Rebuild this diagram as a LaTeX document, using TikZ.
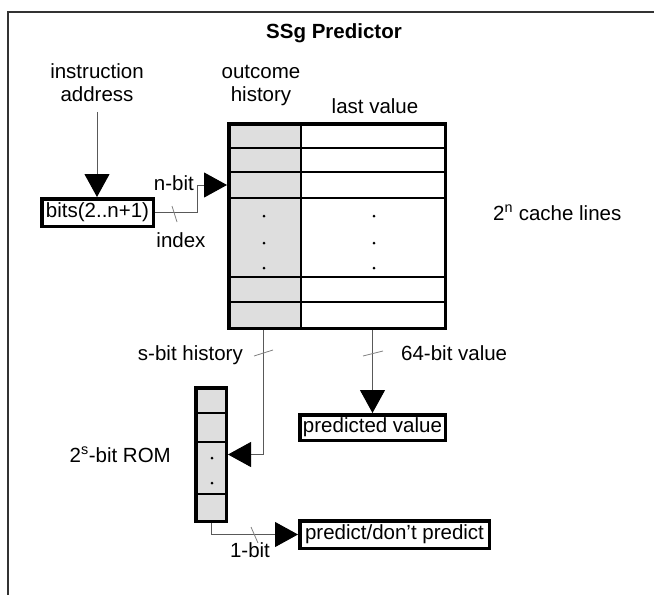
\documentclass[tikz,border=0pt]{standalone}
\usepackage{fontspec}
\setmainfont{Liberation Sans}
\usetikzlibrary{arrows.meta}
\begin{document}
\begin{tikzpicture}[x=1pt,y=-1pt,
  txt/.style={font=\fontsize{20.5}{23}\selectfont, inner sep=0pt, text height=14.5pt, text depth=4pt},
  boxnode/.style={draw=black, line width=3.5pt, fill=white, inner sep=0pt, font=\fontsize{20.5}{23}\selectfont},
  conn/.style={draw=black!65, line width=1pt},
  bigtip/.style={-{Triangle[length=23pt,width=25pt,color=black]}},
  tickmark/.style={draw=black!50, line width=0.8pt},
  cellline/.style={draw=black, line width=2.5pt},
  stipple/.style={fill=black!13},
]
\useasboundingbox (0,0) rectangle (654,595);
% frame
\draw[line width=2pt, black!80] (654,12) -- (8,12) -- (8,595);

% title
\node[txt, font={\fontsize{20.5}{23}\selectfont\bfseries}] (title) at (334,33) {SSg Predictor};

% labels
\node[txt, align=center] (ia) at (97,96.5) {instruction\\address};
\node[txt, align=center] (oh) at (261,96.5) {outcome\\history};
\node[txt] (lv) at (375,108) {last value};
\node[txt, anchor=west] (cl) at (493,215) {2\textsuperscript{n} cache lines};

% table
\fill[stipple] (228,123) rectangle (301,329);
\foreach \yy in {148,172,198,277,302} \draw[cellline] (228,\yy) -- (446,\yy);
\draw[cellline] (301,123) -- (301,329);
\node[draw=black, line width=3.5pt, inner sep=0pt, minimum width=216.5pt, minimum height=204.5pt] (table) at (337,226) {};
\foreach \yy in {216,243,268} {
  \fill (264,\yy) circle (1.5pt);
  \fill (374,\yy) circle (1.5pt);
}

% bits box
\node[boxnode, minimum width=111.5pt, minimum height=27.5pt] (bits) at (97.5,212.5) {bits(2..n+1)};

% ROM
\node[draw=black, line width=3.5pt, inner sep=0pt, minimum width=30.5pt, minimum height=133.5pt, stipple] (rom) at (211,454.5) {};
\foreach \yy in {413,442,494} \draw[cellline] (rom.west |- 0,\yy) -- (rom.east |- 0,\yy);
\fill (212,458) circle (1.5pt);
\fill (212,483) circle (1.5pt);
\node[draw=black, line width=3.5pt, inner sep=0pt, minimum width=30.5pt, minimum height=133.5pt] at (rom.center) {};

% output boxes
\node[boxnode, minimum width=145.5pt, minimum height=25.5pt] (pv) at (372.5,427.5) {predicted value};
\node[boxnode, minimum width=189.5pt, minimum height=27.5pt] (pdp) at (394.5,534.5) {predict/don't predict};

% coordinates
\coordinate (nbend) at (197,185);
\coordinate (row3) at (227,185);
\coordinate (shx) at (263,0);

% connectors
\draw[conn, bigtip, shorten <=6pt] (ia.south) -- (ia.south |- bits.north);
\draw[conn, bigtip] (bits.east) -| (nbend) -- (row3);
\draw[conn, bigtip] (table.south -| shx) |- (rom.east);
\draw[conn, bigtip] (table.south -| pv.north) -- (pv.north);
\draw[conn, bigtip] (rom.south) |- (pdp.west);

% ticks
\draw[tickmark] (172,206) -- (177,222);
\draw[tickmark] (254,356) -- (273,350);
\draw[tickmark] (363,356) -- (383,351);
\draw[tickmark] (251,527) -- (258,543);

% connector labels
\node[txt, anchor=east] (nbit) at (194,185) {n-bit};
\node[txt] (idx) at (181,242) {index};
\node[txt, anchor=east] (sbit) at (243,355) {s-bit history};
\node[txt, anchor=west] (vbit) at (401,355) {64-bit value};
\node[txt, anchor=east] (romlbl) at (171,457) {2\textsuperscript{s}-bit ROM};
\node[txt] (onebit) at (250,552) {1-bit};
\end{tikzpicture}
\end{document}
